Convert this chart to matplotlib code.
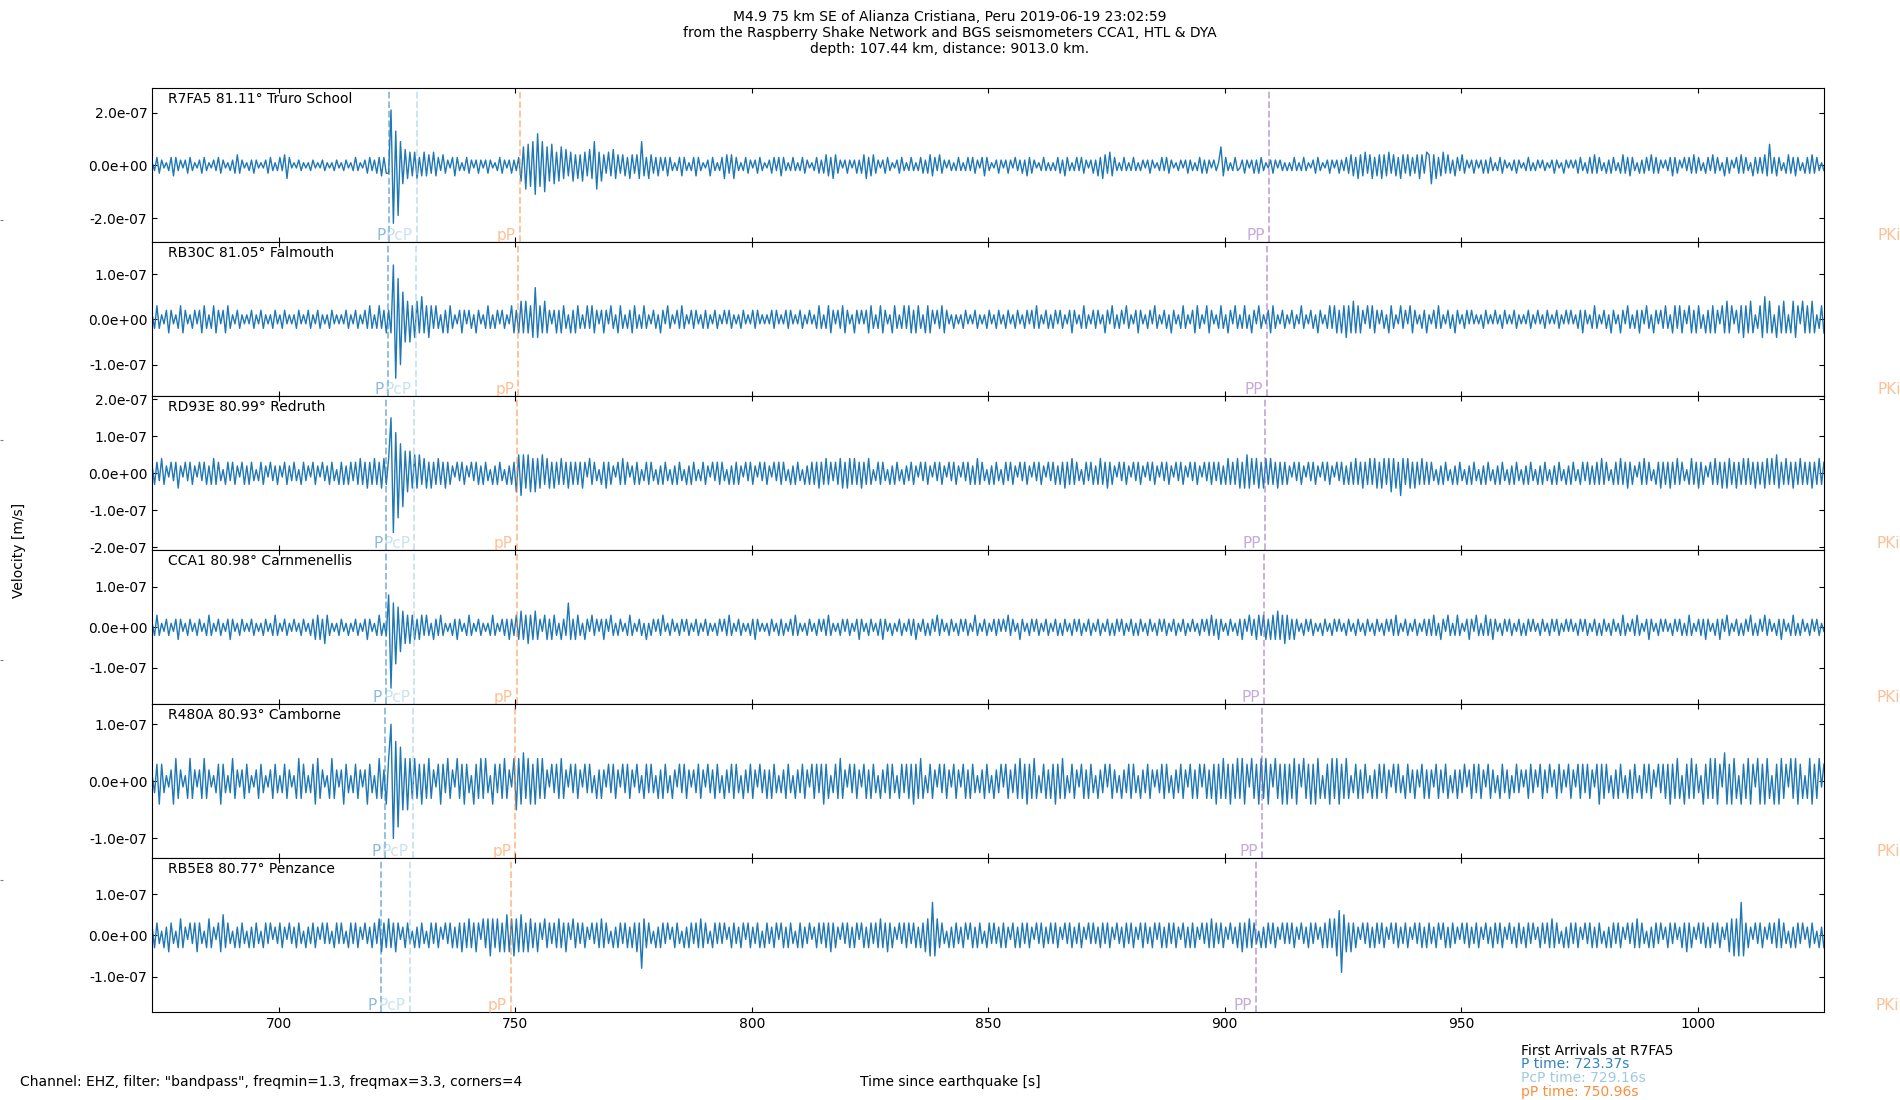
import numpy as np
import matplotlib
matplotlib.use("Agg")
import matplotlib.pyplot as plt
from matplotlib.ticker import FormatStrFormatter, MultipleLocator
from matplotlib.transforms import offset_copy

title = ("M4.9 75 km SE of Alianza Cristiana, Peru 2019-06-19 23:02:59\n"
         "from the Raspberry Shake Network and BGS seismometers CCA1, HTL & DYA\n"
         "depth: 107.44 km, distance: 9013.0 km.")
channel_note = 'Channel: EHZ, filter: "bandpass", freqmin=1.3, freqmax=3.3, corners=4'

stations = ["R7FA5", "RB30C", "RD93E", "CCA1", "R480A", "RB5E8"]
distances = [81.11, 81.05, 80.99, 80.98, 80.93, 80.77]
places = ["Truro School", "Falmouth", "Redruth", "Carnmenellis", "Camborne", "Penzance"]

# phase arrival times [s after origin] at each station (same order as stations)
phases = ["P", "PcP", "pP", "PP", "PKiKP"]
phase_colors = ["#3182bd", "#9ecae1", "#fd8d3c", "#9467bd", "#fd8d3c"]
arr_P = [723.37, 723.04, 722.71, 722.66, 722.38, 721.50]
arr_PcP = [729.16, 728.89, 728.62, 728.58, 728.35, 727.63]
arr_pP = [750.96, 750.63, 750.30, 750.25, 749.97, 749.09]
arr_PP = [909.45, 908.94, 908.43, 908.35, 907.92, 906.56]
arr_PKiKP = [1048.0, 1047.9, 1047.8, 1047.8, 1047.7, 1047.4]
arrivals = [arr_P, arr_PcP, arr_pP, arr_PP, arr_PKiKP]

# y half-range of every panel [m/s]
y_half = [2.92e-7, 1.70e-7, 2.08e-7, 1.90e-7, 1.35e-7, 1.87e-7]
y_step = [2e-7, 1e-7, 1e-7, 1e-7, 1e-7, 1e-7]

# waveforms: successive peaks/troughs, every 0.5 s from 673.2 s,
# one row = 10 s, units of 1e-8 m/s
t_start = 673.2
dt = 0.5

trace_r7fa5 = """
1 -2 3 -3 2 -1 1 -2 3 -4 3 -2 2 -1 2 -3 3 -2 1 -1
2 -3 3 -2 1 -1 2 -2 3 -3 2 -1 1 -2 2 -3 4 -3 2 -1
1 -2 2 -3 2 -1 1 -1 2 -3 3 -2 1 -2 3 -2 4 -5 3 -1
1 -1 2 -2 1 -1 1 -2 2 -1 1 -1 2 -2 1 -1 1 -2 2 -1
1 -2 2 -1 1 -2 3 -2 1 -1 2 -3 3 -2 2 -3 3 -4 3 -3
-3 21 -22 13 -19 9 -7 6 -5 5 -4 5 -5 3 -4 5 -4 4 -3 5
-4 3 -2 4 -3 2 -1 3 -4 3 -2 1 -2 3 -3 2 -1 2 -3 2
-1 2 -3 2 -1 1 -2 3 -3 2 -1 2 -3 2 -2 3 -6 7 -9 8
-8 9 -11 12 -8 9 -10 7 -6 8 -7 5 -6 7 -5 6 -4 5 -6 4
-5 4 -6 5 -4 6 -5 9 -9 5 -6 4 -3 5 -4 6 -5 4 -3 4
-4 3 -5 4 -3 4 -5 9 -4 3 -5 4 -3 3 -4 3 -2 3 -4 3
-2 1 -2 3 -4 3 -2 1 -2 3 -4 3 -2 1 -1 2 -4 3 -2 1
-2 3 -5 4 -3 4 -5 3 -2 1 -2 3 -3 2 -1 2 -3 3 -2 1
-1 2 -3 3 -2 3 -4 3 -2 1 -2 3 -2 1 -2 3 -3 2 -1 1
-2 3 -3 2 -3 4 -4 3 -5 4 -3 2 -1 2 -3 2 -1 2 -3 2
-3 4 -5 3 -4 4 -3 2 -1 2 -3 3 -2 1 -1 2 -3 3 -2 1
-2 3 -2 1 -2 3 -3 2 -3 4 -4 3 -2 4 -3 2 -1 2 -2 1
-2 3 -2 1 -2 3 -2 3 -3 2 -1 3 -4 3 -2 1 -1 2 -3 2
-1 2 -3 2 -1 3 -2 2 -3 2 -4 3 -3 2 -1 1 -2 3 -2 1
-2 1 -2 3 -3 2 -4 3 -2 1 -2 3 -2 3 -3 2 -1 2 -3 2
-4 3 -5 4 -3 5 -4 3 -2 1 -2 3 -2 1 -2 3 -2 1 -2 2
-1 2 -3 2 -1 1 -2 3 -2 3 -3 2 -1 1 -2 2 -1 2 -3 2
-2 1 -2 3 -3 2 -3 2 -1 2 -2 1 7 -4 3 -2 1 -2 3 -2
-1 2 -3 2 -1 2 -3 2 -3 3 -2 1 -1 2 -3 2 -1 2 -2 1
-2 1 -2 3 -2 1 -2 3 -2 1 -1 2 -3 3 -2 1 -1 2 -3 2
-1 2 -3 2 -2 3 -3 4 -4 3 -5 4 -4 5 -3 4 -5 3 -4 4
-5 4 -4 5 -3 4 -4 3 -5 4 -3 4 -4 3 -3 4 -5 4 -3 5
4 -7 4 -5 3 -4 5 -3 4 -3 2 -4 3 -2 4 -3 2 -1 2 -3
2 -1 2 -3 2 -3 3 -2 1 -2 3 -3 2 -1 1 -2 2 -3 2 -1
1 -2 3 -2 1 -2 2 -1 2 -2 1 -1 2 -3 2 -1 1 -3 2 -1
2 -1 2 -3 3 -2 1 -3 3 -3 4 -3 3 -2 1 -3 2 -3 3 -2
1 -3 4 -3 3 -4 3 -2 1 -3 2 -3 3 -2 4 -3 3 -3 2 -1
2 -2 3 -4 3 -3 2 -1 3 -2 3 -3 4 -3 3 -2 1 -3 3 -2
4 -3 3 -2 1 -4 3 -3 2 -1 3 -3 4 -3 3 -2 1 -4 3 -3
3 -3 4 -4 8 -3 3 -4 3 -2 1 -3 4 -3 3 -4 3 -2 1 -3
3 -3 4 -3 3 -2 1 -2
"""

trace_rb30c = """
1 -2 3 -2 1 -1 2 -3 2 -1 1 -2 3 -3 2 -1 1 -2 2 -1
2 -3 3 -2 1 -2 3 -3 2 -1 2 -3 3 -2 1 -1 2 -2 1 -1
1 -1 2 -2 1 -1 2 -2 1 -1 1 -2 2 -1 1 -2 2 -1 1 -1
1 -2 2 -1 1 -1 2 -2 1 -1 2 -2 1 -1 1 -2 2 -1 1 -1
1 -1 2 -2 1 -1 2 -2 1 -1 2 -2 3 -2 1 -2 3 -2 2 -3
2 -3 12 -13 9 -10 6 -5 4 -5 3 -4 4 -3 5 -3 3 -4 3 -2
3 -2 1 -3 2 -3 3 -2 1 -1 2 -3 2 -1 2 -2 1 -3 2 -1
1 -2 3 -2 1 -2 2 -1 2 -2 1 -1 3 -3 2 -3 4 -3 4 -3
3 -4 7 -4 3 -3 4 -3 2 -1 2 -3 2 -3 3 -2 1 -3 2 -3
3 -2 1 -2 3 -2 3 -3 2 -1 2 -3 2 -1 3 -2 1 -3 3 -2
1 -2 2 -3 3 -2 1 -2 3 -2 1 -1 2 -2 1 -3 2 -1 3 -2
1 -1 2 -2 3 -2 1 -1 2 -2 2 -1 1 -2 2 -2 1 -1 2 -2
1 -1 2 -1 2 -2 1 -1 1 -2 2 -1 1 -1 2 -2 2 -1 1 -1
1 -1 2 -2 2 -1 1 -1 2 -2 2 -1 1 -1 2 -2 1 -1 2 -1
1 -2 3 -2 1 -2 3 -3 2 -1 2 -2 3 -3 2 -1 1 -3 2 -1
2 -1 2 -3 3 -2 1 -2 3 -3 2 -1 1 -3 3 -2 1 -2 3 -2
3 -3 2 -3 3 -2 1 -3 3 -3 2 -1 2 -2 3 -3 2 -1 1 -2
1 -1 1 -2 2 -1 1 -1 2 -2 1 -1 1 -2 2 -1 1 -2 2 -1
1 -2 2 -1 1 -2 2 -1 1 -2 2 -1 2 -2 3 -2 1 -1 2 -2
1 -2 2 -1 2 -2 1 -1 2 -3 2 -1 1 -2 3 -2 1 -1 2 -2
2 -1 1 -3 2 -1 3 -2 1 -2 2 -1 3 -2 1 -1 2 -3 2 -1
1 -2 2 -1 3 -2 1 -1 2 -2 1 -3 2 -1 1 -2 3 -2 1 -1
2 -3 3 -2 1 -1 3 -3 2 -1 1 -2 3 -2 1 -3 2 -1 3 -2
1 -2 3 -2 1 -3 2 -1 3 -2 1 -1 2 -3 3 -2 1 -1 2 -2
1 -1 2 -2 1 -1 3 -2 1 -1 2 -2 1 -3 2 -1 1 -2 3 -2
3 -3 2 -3 3 -4 3 -3 4 -3 3 -3 2 -1 3 -2 3 -3 2 -1
2 -2 1 -3 3 -2 1 -1 3 -2 2 -1 3 -3 2 -1 1 -2 2 -3
1 -1 2 -2 3 -2 1 -1 2 -2 1 -3 2 -1 1 -2 2 -1 2 -1
1 -1 1 -2 2 -1 1 -1 2 -1 1 -2 2 -1 1 -1 2 -2 1 -1
1 -1 2 -2 1 -1 2 -1 1 -2 2 -1 1 -1 2 -2 1 -1 2 -1
2 -1 1 -2 2 -3 2 -1 1 -2 3 -2 1 -1 2 -2 1 -3 2 -1
1 -3 2 -1 3 -2 1 -2 2 -3 2 -1 3 -2 1 -3 2 -1 2 -2
3 -2 1 -3 3 -2 3 -3 2 -1 3 -3 2 -3 3 -2 1 -3 2 -3
3 -3 2 -1 3 -3 4 -3 3 -1 2 -3 3 -4 3 -3 4 -3 1 -2
3 -4 5 -3 4 -3 1 -4 3 -3 4 -3 1 -3 4 -4 3 -1 4 -3
3 -3 4 -3 1 -2 3 -3
"""

trace_rd93e = """
2 -3 3 -2 4 -3 2 -1 3 -2 3 -4 2 -1 3 -2 3 -3 2 -1
3 -2 3 -3 2 -3 4 -3 3 -2 1 -3 3 -2 3 -3 2 -1 3 -3
2 -3 3 -2 1 -2 3 -3 2 -1 3 -2 2 -3 2 -1 3 -3 2 -2
3 -2 1 -3 3 -2 2 -1 3 -3 2 -1 3 -2 2 -3 3 -2 1 -3
3 -3 2 -3 3 -2 3 -3 4 -3 3 -4 3 -3 4 -3 3 -4 4 -3
4 15 -16 11 -12 8 -9 6 -5 6 -4 5 -4 5 -3 4 -4 3 -4 3
-3 4 -3 3 -4 3 -3 2 -1 3 -2 3 -3 2 -1 3 -2 3 -3 2
-3 3 -2 1 -3 2 -3 3 -2 1 -3 2 -3 3 -5 5 -6 5 -4 5
-5 4 -5 4 -4 5 -3 4 -4 3 -4 3 -3 4 -3 3 -4 3 -3 3
-3 3 -4 3 -1 4 -3 3 -2 1 -3 3 -4 3 -3 2 -1 3 -3 4
-3 3 -1 2 -3 3 -3 1 -2 3 -3 3 -2 1 -3 2 -3 3 -2 1
-3 2 -3 3 -2 1 -3 2 -3 3 -2 1 -2 3 -3 2 -1 3 -2 3
-3 3 -2 1 -3 2 -3 3 -3 2 -1 3 -2 3 -3 2 -1 3 -2 3
-3 2 -1 3 -2 3 -3 3 -2 1 -3 2 -3 3 -2 1 -3 2 -3 3
-3 3 -4 3 -3 4 -3 3 -2 3 -3 4 -4 3 -4 4 -3 4 -3 3
-4 3 -3 4 -3 1 -2 3 -3 3 -2 1 -3 2 -3 3 -2 1 -3 2
-2 3 -3 2 -1 3 -2 3 -3 2 -1 3 -2 3 -3 2 -1 3 -2 3
-3 2 -1 3 -2 3 -3 2 -3 4 -3 3 -2 1 -3 2 -3 3 -2 1
-3 3 -2 3 -3 2 -1 3 -2 3 -3 2 -1 3 -2 3 -3 2 -1 3
-2 3 -3 2 -3 3 -4 3 -3 4 -3 3 -2 1 -3 3 -2 3 -3 2
-3 4 -3 3 -4 3 -3 2 -1 3 -2 3 -3 2 -1 3 -2 3 -3 2
-1 3 -2 3 -3 2 -1 3 -2 3 -3 2 -1 3 -2 3 -3 2 -1 3
-2 3 -3 2 -1 3 -2 3 -3 3 -2 3 -3 2 -3 4 -3 3 -3 4
-4 3 -4 5 -4 4 -3 4 -4 3 -4 4 -3 4 -3 3 -4 3 -3 3
-3 2 -1 3 -2 3 -3 2 -1 3 -2 3 -3 2 -1 3 -2 3 -3 2
-1 3 -2 3 -3 2 -3 3 -3 4 -3 3 -4 3 -3 4 -3 4 -4 3
-4 4 -3 4 -5 4 -4 3 -6 4 -3 4 -4 3 -4 3 -3 4 -3 3
-3 3 -2 1 -3 2 -3 3 -2 1 -3 2 -3 3 -2 1 -3 2 -3 3
-2 1 -3 2 -3 3 -2 1 -3 2 -3 3 -2 1 -3 2 -3 3 -2 1
-3 2 -3 3 -2 1 -3 2 -3 3 -2 1 -3 2 -3 3 -2 1 -3 2
-3 3 -2 1 -3 3 -2 3 -3 2 -3 3 -3 4 -3 3 -2 1 -3 3
-3 4 -3 3 -4 3 -3 2 -1 3 -3 4 -3 3 -2 1 -3 3 -4 3
-3 3 -4 3 -3 4 -3 3 -2 1 -3 4 -3 3 -4 3 -3 2 -1 3
-3 4 -3 3 -4 3 -4 4 -3 3 -4 3 -3 4 -3 4 -3 3 -4 3
-3 3 -4 4 -3 4 -3 5 -4 3 -3 4 -3 3 -4 3 -3 4 -3 3
-3 3 -4 3 -3 4 -3 3
"""

trace_cca1 = """
1 -2 3 -2 1 -1 2 -2 1 -1 2 -3 2 -1 1 -2 2 -1 1 -2
2 -1 1 -2 3 -2 1 -1 2 -2 1 -1 2 -3 2 -1 1 -2 2 -1
1 -1 2 -2 1 -1 1 -2 2 -1 1 -2 3 -2 1 -1 2 -2 1 -1
2 -1 1 -2 2 -1 1 -2 2 -3 3 -3 2 -4 3 -2 1 -1 1 -2
2 -1 1 -2 1 -1 2 -2 1 -1 2 -3 2 -1 1 -2 3 -2 1 -2
8 -15 6 -9 5 -6 4 -4 3 -4 3 -3 2 -3 3 -2 3 -2 1 -3
2 -2 3 -2 1 -1 1 -2 2 -3 2 -1 1 -2 3 -2 1 -1 2 -2
1 -1 1 -2 3 -2 1 -1 2 -2 2 -3 2 -2 3 -3 4 -3 3 -4
3 -3 4 -3 2 -1 3 -3 2 -3 3 -2 1 -3 2 -2 6 -3 2 -3
3 -2 1 -3 2 -1 3 -2 2 -1 2 -3 2 -1 3 -2 1 -2 2 -1
1 -2 3 -2 1 -1 2 -2 1 -3 1 -2 2 -1 2 -2 3 -1 1 -2
2 -1 1 -2 2 -1 2 -2 1 -1 2 -2 1 -1 2 -2 1 -1 1 -2
2 -1 2 -2 3 -2 1 -1 2 -2 1 -1 1 -2 2 -3 2 -1 1 -1
1 -2 2 -1 1 -2 2 -2 1 -1 2 -2 3 -2 1 -1 1 -2 2 -1
1 -2 2 -1 2 -2 3 -2 1 -1 1 -2 2 -1 2 -2 1 -1 2 -3
2 -1 1 -2 2 -1 1 -2 2 -3 2 -1 1 -2 1 -1 2 -2 1 -1
2 -2 2 -3 1 -1 2 -2 1 -2 2 -1 3 -2 2 -1 1 -2 2 -1
1 -2 2 -1 2 -2 1 -1 3 -2 1 -1 2 -2 1 -1 2 -2 2 -1
2 -1 3 -2 2 -1 1 -3 2 -1 1 -2 2 -1 2 -2 1 -1 2 -2
1 -1 2 -2 1 -2 2 -1 1 -2 2 -1 2 -2 1 -1 2 -2 1 -1
2 -2 1 -1 2 -2 1 -2 2 -1 2 -2 1 -1 2 -2 1 -2 2 -1
1 -2 2 -1 1 -2 2 -1 2 -2 1 -1 2 -2 1 -1 2 -2 1 -1
2 -1 1 -2 2 -1 2 -2 3 -2 2 -3 2 -1 1 -2 2 -1 1 -2
2 -3 2 -1 3 -2 2 -3 3 -2 3 -3 2 -3 3 -3 4 -3 3 -4
3 -3 2 -3 2 -1 1 -2 2 -1 2 -2 1 -1 1 -2 2 -1 1 -2
2 -1 2 -1 1 -2 2 -1 1 -2 2 -1 1 -2 2 -1 1 -2 2 -1
1 -2 2 -1 2 -2 3 -2 1 -1 2 -2 1 -1 2 -2 1 -1 2 -2
2 -2 3 -2 1 -3 2 -1 3 -2 1 -2 3 -2 1 -1 2 -3 2 -1
3 -2 1 -2 3 -2 2 -3 2 -1 1 -2 2 -1 2 -2 1 -1 2 -2
1 -2 2 -1 2 -1 1 -2 2 -1 1 -2 2 -1 2 -2 1 -1 2 -1
2 -1 1 -2 2 -1 2 -2 1 -1 2 -2 1 -2 2 -1 1 -2 2 -1
1 -2 3 -2 1 -1 2 -2 3 -2 1 -1 2 -3 2 -1 1 -2 2 -1
2 -1 1 -2 2 -1 2 -2 1 -2 3 -2 1 -1 2 -2 2 -3 2 -1
1 -2 2 -3 2 -1 3 -2 1 -1 2 -2 1 -2 2 -1 3 -2 1 -2
2 -1 3 -2 2 -1 1 -2 2 -3 2 -1 1 -2 3 -2 1 -2 2 -1
1 -2 2 -1 2 -2 1 -1
"""

trace_r480a = """
1 -2 3 -4 3 -2 1 -1 2 -4 4 -3 2 -1 1 -3 4 -3 2 -1
2 -3 4 -3 2 -1 1 -2 3 -4 3 -2 1 -2 4 -3 2 -1 2 -3
3 -2 1 -1 2 -3 3 -2 1 -1 2 -3 3 -2 1 -2 3 -3 2 -1
1 -3 4 -3 3 -2 1 -2 3 -4 4 -3 2 -1 1 -3 4 -3 2 -1
2 -4 3 -2 1 -2 3 -3 2 -1 2 -4 3 -2 1 -3 4 -3 2 -4
4 10 -10 7 -8 6 -5 4 -5 4 -3 4 -3 3 -4 3 -3 4 -3 2
-1 3 -4 3 -2 4 -3 2 -1 4 -3 3 -4 3 -2 1 -4 3 -3 4
-3 4 -2 1 -4 3 -2 3 -3 4 -3 2 -1 4 -5 4 -4 5 -3 4
-4 3 -4 4 -3 4 -3 2 -1 3 -2 3 -3 4 -3 2 -1 3 -2 3
-3 2 -1 3 -2 3 -2 1 -3 2 -3 2 -1 3 -2 3 -3 2 -1 3
-2 3 -3 2 -1 3 -2 1 -3 3 -2 3 -2 1 -3 2 -3 3 -2 1
-3 2 -1 3 -2 3 -3 2 -1 2 -2 3 -3 2 -1 3 -2 2 -3 3
-2 1 -3 2 -2 3 -3 3 -2 1 -3 2 -2 3 -3 2 -1 3 -2 2
-3 2 -3 3 -2 1 -2 2 -3 3 -2 1 -3 2 -2 3 -3 2 -1 3
-3 3 -2 3 -4 3 -3 1 -2 3 -3 4 -3 2 -1 3 -2 3 -3 2
-1 3 -3 2 -3 3 -2 1 -3 2 -2 3 -3 3 -2 1 -3 3 -2 3
-3 3 -4 3 -3 4 -3 1 -2 3 -3 2 -1 3 -2 3 -3 2 -1 3
-3 2 -1 3 -3 2 -3 3 -2 1 -2 2 -3 3 -2 1 -3 2 -2 3
-1 3 -3 2 -2 3 -3 4 -3 3 -4 3 -3 4 -3 1 -2 3 -3 2
-3 3 -4 3 -3 4 -3 1 -2 3 -3 2 -1 3 -3 2 -3 3 -2 1
-3 2 -2 3 -1 3 -3 2 -2 1 -3 2 -2 3 -3 3 -2 1 -3 2
-2 3 -3 2 -1 2 -2 3 -3 3 -2 1 -3 2 -2 3 -3 2 -1 3
-3 2 -3 3 -1 3 -3 2 -3 3 -4 3 -3 4 -3 3 -4 3 -3 4
-3 4 -4 3 -1 4 -3 3 -4 4 -3 4 -4 3 -1 4 -3 3 -4 3
-4 3 -3 4 -4 3 -1 4 -3 3 -4 3 -4 4 -3 1 -3 3 -4 4
-3 4 -4 3 -3 4 -3 1 -2 3 -3 2 -3 3 -2 1 -3 2 -3 3
-2 3 -3 2 -1 3 -2 3 -2 1 -3 3 -2 2 -3 2 -1 3 -3 2
-3 2 -1 3 -3 2 -2 3 -3 1 -2 2 -3 2 -2 3 -1 2 -3 3
-2 3 -3 2 -1 3 -3 2 -2 1 -3 3 -2 2 -3 1 -2 3 -2 2
-1 2 -3 3 -2 2 -1 3 -3 2 -2 3 -1 2 -3 3 -2 2 -1 3
-3 2 -1 3 -3 3 -2 3 -3 2 -1 3 -4 3 -3 3 -2 1 -3 2
-3 3 -2 1 -3 2 -3 3 -2 1 -3 3 -2 3 -3 2 -1 3 -2 3
-3 3 -4 3 -3 4 -3 1 -4 3 -3 4 -3 3 -2 1 -4 3 -3 4
-3 4 -4 3 -1 5 -4 3 -4 4 -3 1 -4 3 -3 4 -4 3 -1 4
-4 3 -4 4 -3 1 -4 3 -4 4 -3 3 -1 4 -3 4 -4 3 -3 1
-3 4 -4 3 -3 4 -1 3
"""

trace_rb5e8 = """
2 -3 3 -2 1 -3 2 -4 3 -2 1 -3 4 -3 2 -1 3 -2 3 -4
3 -2 1 -3 4 -3 2 -1 3 -4 5 -3 3 -2 1 -3 2 -3 3 -2
1 -3 2 -3 3 -2 1 -3 3 -2 3 -1 2 -2 3 -3 2 -1 3 -2
2 -3 3 -2 1 -3 2 -2 3 -3 2 -1 3 -2 3 -2 1 -3 3 -2
3 -2 1 -3 3 -2 3 -3 2 -1 3 -2 2 -3 3 -2 4 -4 3 -3
4 -3 3 -4 3 -1 2 -3 3 -2 1 -3 2 -3 3 -2 1 -3 3 -2
3 -3 2 -1 3 -2 3 -3 2 -3 3 -4 3 -3 4 -3 3 -4 3 -1
4 -3 4 -5 4 -3 4 -4 3 -4 5 -4 4 -5 4 -4 5 -4 3 -4
4 -3 3 -4 3 -1 4 -3 3 -2 3 -3 4 -3 3 -4 3 -1 4 -3
3 -2 3 -3 2 -1 3 -2 3 -3 4 -3 3 -2 1 -3 2 -3 3 -2
3 -3 2 -3 3 -4 3 -8 4 -3 3 -2 1 -3 2 -3 3 -2 3 -1
2 -3 3 -2 1 -3 2 -3 3 -2 3 -3 4 -3 3 -2 1 -3 3 -2
3 -2 3 -1 2 -3 3 -2 2 -3 3 -1 3 -3 2 -2 3 -3 1 -3
3 -2 2 -3 3 -1 3 -3 2 -3 3 -2 1 -3 3 -3 2 -2 3 -1
2 -3 3 -2 3 -3 3 -4 3 -3 2 -1 3 -2 3 -3 2 -3 3 -1
3 -3 2 -3 3 -2 3 -3 4 -3 3 -4 3 -3 2 -1 3 -2 3 -3
3 -2 3 -3 2 -3 3 -4 4 -5 8 -5 4 -3 3 -2 1 -3 2 -3
3 -2 2 -3 3 -1 3 -3 2 -3 3 -2 1 -3 3 -2 3 -2 2 -3
3 -3 2 -1 3 -3 2 -3 3 -2 3 -3 2 -1 3 -2 3 -3 2 -2
3 -2 3 -3 2 -1 3 -2 3 -3 2 -2 3 -3 2 -1 3 -2 3 -2
2 -3 3 -2 3 -3 2 -1 3 -2 2 -3 3 -2 3 -3 2 -1 3 -3
3 -2 2 -3 3 -1 3 -3 2 -3 3 -2 3 -3 2 -1 3 -3 2 -3
3 -3 2 -1 3 -2 3 -3 4 -3 3 -2 3 -3 2 -1 3 -2 2 -3
3 -4 3 -3 4 -3 3 -2 1 -3 2 -3 3 -2 3 -3 2 -1 3 -2
3 -2 3 -3 2 -1 3 -2 2 -3 3 -2 3 -1 2 -3 3 -3 4 -3
4 -5 6 -9 5 -4 3 -4 3 -3 2 -1 3 -2 3 -3 2 -3 3 -2
3 -3 2 -1 3 -2 3 -3 2 -2 3 -3 2 -1 3 -2 3 -3 2 -3
3 -2 2 -3 3 -1 3 -3 2 -3 3 -2 2 -1 3 -2 3 -3 2 -2
3 -3 2 -1 3 -2 2 -3 3 -2 3 -3 2 -1 3 -2 2 -3 3 -2
2 -3 3 -2 3 -1 2 -3 3 -2 3 -3 4 -3 3 -2 1 -3 2 -3
3 -2 3 -3 2 -1 3 -2 3 -3 2 -3 3 -2 1 -3 2 -3 3 -2
3 -3 2 -1 3 -2 3 -3 4 -3 3 -2 1 -3 2 -3 3 -2 3 -1
2 -3 3 -2 3 -1 2 -3 3 -4 3 -3 2 -1 3 -2 3 -3 2 -3
3 -2 3 -3 2 -1 3 -4 4 -5 4 -5 8 -5 3 -3 2 -1 3 -2
3 -3 2 -1 3 -2 3 -3 4 -3 3 -2 1 -3 2 -3 3 -2 3 -1
2 -3 3 -2 1 -3 2 -3
"""

traces = [trace_r7fa5, trace_rb30c, trace_rd93e, trace_cca1, trace_r480a, trace_rb5e8]

fig, axes = plt.subplots(6, 1, sharex=True, figsize=(19, 11), dpi=100)
fig.subplots_adjust(left=0.0801, right=0.9602, top=0.9197, bottom=0.0797, hspace=0)

# big empty frame behind everything (only its ticks show at the left edge)
bg = fig.add_axes([0, 0, 1, 1], frameon=False, zorder=-1)
bg.set_xticks([])
bg.set_yticks([0.2, 0.4, 0.6, 0.8])
bg.tick_params(direction="in", labelleft=False, length=2, color="0.5")

for i, ax in enumerate(axes):
    vel = np.array(traces[i].split(), dtype=float) * 1e-8
    t = t_start + dt * np.arange(len(vel))
    ax.plot(t, vel, color="#1f77b4", lw=1.0)

    label_tr = offset_copy(ax.get_xaxis_transform(), fig=fig, x=-4, y=0, units="dots")
    for ph, col, arr in zip(phases, phase_colors, arrivals):
        ax.axvline(arr[i], color=col, ls="--", lw=1.3, alpha=0.55)
        ax.text(arr[i], -0.004, ph, color=col, alpha=0.55, ha="right", va="bottom",
                fontsize=11, transform=label_tr)

    ax.text(0.0096, 0.975, f"{stations[i]} {distances[i]:.2f}° {places[i]}",
            transform=ax.transAxes, va="top", ha="left", fontsize=10)

    ax.set_ylim(-y_half[i], y_half[i])
    ax.yaxis.set_major_locator(MultipleLocator(y_step[i]))
    ax.yaxis.set_major_formatter(FormatStrFormatter("%.1e"))
    ax.xaxis.set_major_locator(MultipleLocator(50))
    ax.tick_params(direction="in", top=True, right=True)

axes[-1].set_xlim(673.2, 1026.8)

fig.text(0.5, 0.991, title, ha="center", va="top", fontsize=10)
fig.text(0.0063, 0.5, "Velocity [m/s]", rotation=90, ha="left", va="center", fontsize=10)
fig.text(0.0103, 0.0166, channel_note, ha="left", va="center", fontsize=10)
fig.text(0.5, 0.0166, "Time since earthquake [s]", ha="center", va="center", fontsize=10)

fig.text(0.8004, 0.0446, f"First Arrivals at {stations[0]}", va="center", fontsize=10)
info_y = [0.0325, 0.0197, 0.0076]
for k in range(3):
    fig.text(0.8004, info_y[k], f"{phases[k]} time: {arrivals[k][0]:.2f}s",
             color=phase_colors[k], va="center", fontsize=10)

fig.savefig("out.png", dpi=100)
